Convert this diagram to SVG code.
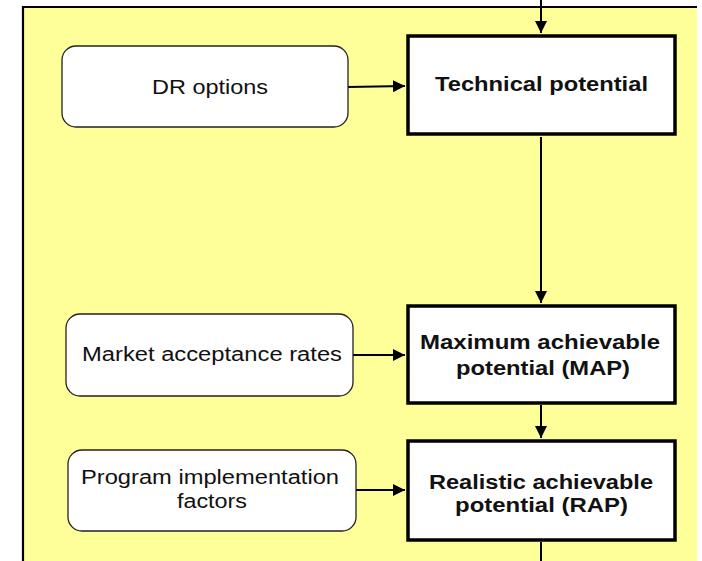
<svg xmlns="http://www.w3.org/2000/svg" width="702" height="561" viewBox="0 0 702 561">
  <style>
    .bg { fill: #FFFF99; }
    .frame { fill: none; stroke: #000; stroke-width: 2.2; }
    .main { fill: #fff; stroke: #000; stroke-width: 3.5; }
    .input { fill: #fff; stroke: #222; stroke-width: 1.3; }
    .bold { font-family: "Liberation Sans", Arial, sans-serif; font-weight: bold; font-size: 20px; fill: #111; }
    .reg { font-family: "Liberation Sans", Arial, sans-serif; font-size: 19.5px; fill: #111; }
    .conn { stroke: #000; stroke-width: 2; fill: none; }
  </style>
  <defs>
    <marker id="arrow" viewBox="0 0 12 12" refX="12" refY="6" markerWidth="12" markerHeight="12" markerUnits="userSpaceOnUse" orient="auto">
      <path d="M0,0 L12,6 L0,12 Z" fill="#000"/>
    </marker>
  </defs>
  <rect x="0" y="0" width="702" height="561" fill="#fff"/>
  <rect class="bg" x="22" y="6" width="675" height="555"/>
  <path class="frame" d="M23,561 L23,7 L697,7"/>

  <g id="connectors">
    <line class="conn" x1="541" y1="0" x2="541" y2="33" marker-end="url(#arrow)"/>
    <line class="conn" x1="348" y1="87" x2="405" y2="86" marker-end="url(#arrow)"/>
    <line class="conn" x1="541" y1="137" x2="541" y2="303" marker-end="url(#arrow)"/>
    <line class="conn" x1="353" y1="355" x2="405" y2="355" marker-end="url(#arrow)"/>
    <line class="conn" x1="541" y1="405" x2="541" y2="438" marker-end="url(#arrow)"/>
    <line class="conn" x1="356" y1="490" x2="405" y2="490" marker-end="url(#arrow)"/>
    <line class="conn" x1="541" y1="542" x2="541" y2="561"/>
  </g>

  <g id="technical">
    <rect class="main" x="408" y="36" width="267" height="98"/>
    <text class="bold" x="435" y="91" textLength="213" lengthAdjust="spacingAndGlyphs">Technical potential</text>
  </g>

  <g id="dr-options">
    <rect class="input" x="62" y="46" width="286" height="81" rx="14" ry="14"/>
    <text class="reg" x="152" y="94" textLength="116" lengthAdjust="spacingAndGlyphs">DR options</text>
  </g>

  <g id="map">
    <rect class="main" x="408" y="306" width="267" height="97"/>
    <text class="bold" x="420" y="349" textLength="240" lengthAdjust="spacingAndGlyphs">Maximum achievable</text>
    <text class="bold" x="456" y="375" textLength="174" lengthAdjust="spacingAndGlyphs">potential (MAP)</text>
  </g>

  <g id="market">
    <rect class="input" x="66" y="314" width="287" height="82" rx="14" ry="14"/>
    <text class="reg" x="82" y="361" textLength="260" lengthAdjust="spacingAndGlyphs">Market acceptance rates</text>
  </g>

  <g id="rap">
    <rect class="main" x="408" y="441" width="267" height="99"/>
    <text class="bold" x="429" y="489" textLength="224" lengthAdjust="spacingAndGlyphs">Realistic achievable</text>
    <text class="bold" x="455" y="512" textLength="173" lengthAdjust="spacingAndGlyphs">potential (RAP)</text>
  </g>

  <g id="program">
    <rect class="input" x="68" y="450" width="288" height="81" rx="14" ry="14"/>
    <text class="reg" x="81" y="484" textLength="258" lengthAdjust="spacingAndGlyphs">Program implementation</text>
    <text class="reg" x="177" y="508" textLength="70" lengthAdjust="spacingAndGlyphs">factors</text>
  </g>
</svg>
